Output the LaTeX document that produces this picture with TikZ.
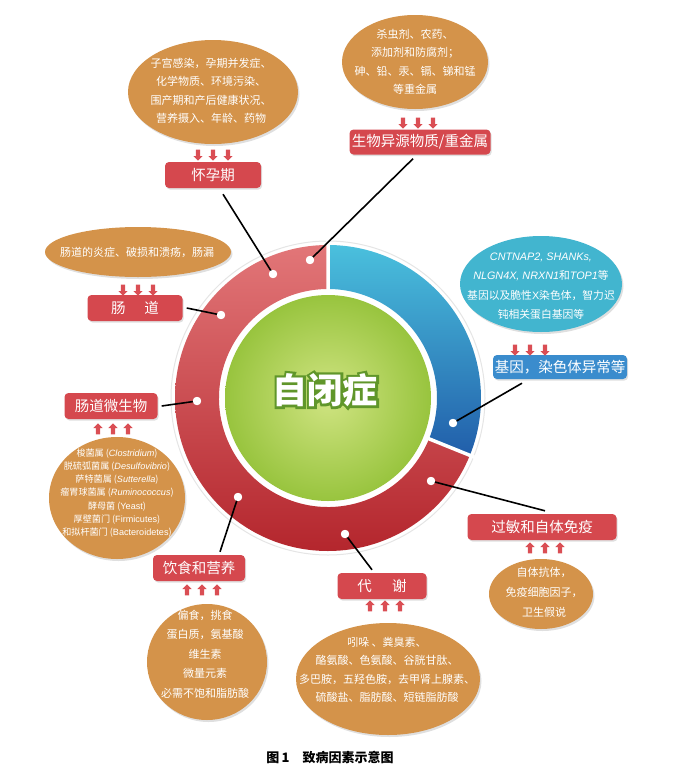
\documentclass[tikz,border=0pt]{standalone}
\usepackage{fontspec}
\setmainfont{Noto Sans CJK SC}
\newfontfamily\latin{Liberation Sans}
\newfontfamily\coreglow{Noto Sans CJK SC}[BoldFeatures={FakeBold=14}]
\usetikzlibrary{shapes.geometric,shapes.arrows,shadows}

\definecolor{boxred}{RGB}{213,72,78}
\definecolor{boxblue}{RGB}{58,140,205}
\definecolor{ochre}{RGB}{212,147,74}
\definecolor{seacyan}{RGB}{66,181,207}
\definecolor{cuered}{RGB}{218,78,84}
\definecolor{ringpink}{RGB}{226,118,120}
\definecolor{ringdark}{RGB}{180,38,45}
\definecolor{ringcyan}{RGB}{74,192,221}
\definecolor{ringblue}{RGB}{33,94,170}
\definecolor{coremid}{RGB}{208,228,130}
\definecolor{coreedge}{RGB}{152,196,62}
\definecolor{coreline}{RGB}{96,150,42}

\newcommand\gn[1]{{\latin\itshape #1}}
\newcommand\lt[1]{{\latin #1}}
% three small block arrows: x, y, direction, name
\newcommand\cuetrio[4]{%
  \foreach \k/\dx in {1/-15,2/0,3/15}
    \node[cue, shape border rotate=#3] (#4\k) at (#1+\dx,#2) {};}

\tikzset{
  cause/.style={rectangle, rounded corners=4pt, fill=boxred, text=white,
    font=\fontsize{14.5}{16}\selectfont, minimum height=26pt, inner sep=0pt,
    drop shadow={shadow xshift=1.2pt, shadow yshift=-1.6pt, opacity=.25}},
  blob/.style={ellipse, fill=ochre, inner sep=0pt,
    drop shadow={shadow xshift=1.5pt, shadow yshift=-2pt, opacity=.25}},
  blobtext/.style={text=white, align=center, font=\fontsize{11}{18.5}\selectfont},
  link/.style={line width=1.6pt},
  hub/.style={circle, fill=white, inner sep=0pt, minimum size=8pt},
  cue/.style={single arrow, fill=cuered, inner sep=2pt,
    single arrow head extend=2.4pt, minimum height=11pt},
}

\begin{document}
\begin{tikzpicture}[x=1pt,y=-1pt]
\useasboundingbox (0,0) rectangle (674,777);

% ring
\begin{scope}[shift={(328,398)}, y=1pt]
  \fill[white, draw=black!10, line width=1pt] (0,0) circle[radius=157];
  \shade[top color=ringpink, bottom color=ringdark]
    (90:153) arc[start angle=90, end angle=338, radius=153]
    -- (338:109) arc[start angle=338, end angle=90, radius=109] -- cycle;
  \shade[top color=ringcyan, bottom color=ringblue]
    (-22:153) arc[start angle=-22, end angle=90, radius=153]
    -- (90:109) arc[start angle=90, end angle=-22, radius=109] -- cycle;
  \draw[white, line width=3.5pt] (90:105) -- (90:158) (-22:105) -- (-22:158);
  \shade[inner color=coremid, outer color=coreedge] (0,0) circle[radius=103];
\end{scope}
\node[font=\coreglow\bfseries\fontsize{35}{38}\selectfont, text=coreline] (coreGlow) at (325,390) {自闭症};
\node[font=\bfseries\fontsize{35}{38}\selectfont, text=white] (core) at (325,390) {自闭症};

% ellipses
\node[blob, minimum width=170pt, minimum height=104pt] (pregE) at (213,92) {};
\node[blobtext] (pregT) at (211,91) {子宫感染，孕期并发症、\\化学物质、环境污染、\\围产期和产后健康状况、\\营养摄入、年龄、药物};
\node[blob, minimum width=146pt, minimum height=94pt] (xenoE) at (415,62) {};
\node[blobtext] (xenoT) at (415,62) {杀虫剂、农药、\\添加剂和防腐剂；\\砷、铅、汞、镉、锑和锰\\等重金属};
\node[blob, fill=seacyan, minimum width=162pt, minimum height=96pt] (geneE) at (541,284) {};
\node[blobtext, font=\fontsize{10.8}{19.5}\selectfont] (geneT) at (541,286)
  {\gn{CNTNAP2, SHANKs,}\\\gn{NLGN4X, NRXN1}和\gn{TOP1}等\\基因以及脆性\lt{X}染色体，智力迟\\钝相关蛋白基因等};
\node[blob, minimum width=186pt, minimum height=50pt] (gutE) at (138,252) {};
\node[blobtext] (gutT) at (137,252) {肠道的炎症、破损和溃疡，肠漏};
\node[blob, minimum width=136pt, minimum height=122pt] (microE) at (117,498) {};
\node[blobtext, font=\fontsize{9.1}{13.3}\selectfont] (microT) at (117,493)
  {梭菌属 (\gn{Clostridium})\\脱硫弧菌属 (\gn{Desulfovibrio})\\萨特菌属 (\gn{Sutterella})\\瘤胃球菌属 (\gn{Ruminococcus})\\酵母菌 (\lt{Yeast})\\厚壁菌门 (\lt{Firmicutes})\\和拟杆菌门 (\lt{Bacteroidetes})};
\node[blob, minimum width=120pt, minimum height=116pt] (dietE) at (207,662) {};
\node[blobtext, font=\fontsize{11}{19.5}\selectfont] (dietT) at (205,654) {偏食，挑食\\蛋白质，氨基酸\\维生素\\微量元素\\必需不饱和脂肪酸};
\node[blob, minimum width=184pt, minimum height=112pt] (metabE) at (388,679) {};
\node[blobtext] (metabT) at (387,670) {吲哚 、粪臭素、\\酪氨酸、色氨酸、谷胱甘肽、\\多巴胺，五羟色胺，去甲肾上腺素、\\硫酸盐、脂肪酸、短链脂肪酸};
\node[blob, minimum width=104pt, minimum height=70pt] (immuneE) at (541,594) {};
\node[blobtext, font=\fontsize{11}{20}\selectfont] (immuneT) at (544,592) {自体抗体，\\免疫细胞因子，\\卫生假说};

% factor boxes
\node[cause, minimum width=96pt] (preg) at (213,175) {怀孕期};
\node[cause, minimum width=141pt, minimum height=25pt] (xeno) at (420,142) {生物异源物质/重金属};
\node[cause, fill=boxblue, minimum width=134pt, minimum height=24pt] (gene) at (560,367) {基因，染色体异常等};
\node[cause, minimum width=95pt] (gut) at (135,308) {肠\hspace{1.3em}道};
\node[cause, minimum width=93pt] (micro) at (111,406) {肠道微生物};
\node[cause, minimum width=92pt] (diet) at (199,568) {饮食和营养};
\node[cause, minimum width=89pt] (metab) at (382,586) {代\hspace{1.4em}谢};
\node[cause, minimum width=149pt] (immune) at (542,527) {过敏和自体免疫};

% arrows
\cuetrio{213}{154}{270}{pregA}
\cuetrio{418}{122}{270}{xenoA}
\cuetrio{530}{349}{270}{geneA}
\cuetrio{138}{289}{270}{gutA}
\cuetrio{113}{430}{90}{microA}
\cuetrio{202}{591}{90}{dietA}
\cuetrio{385}{607}{90}{metabA}
\cuetrio{545}{549}{90}{immuneA}

% connectors
\node[hub] (hubPreg) at (273,274) {};
\node[hub] (hubXeno) at (310,260) {};
\node[hub] (hubGene) at (453,423) {};
\node[hub] (hubGut) at (221,315) {};
\node[hub] (hubMicro) at (197,401) {};
\node[hub] (hubDiet) at (238,497) {};
\node[hub] (hubMetab) at (345,534) {};
\node[hub] (hubImmune) at (431,481) {};
\draw[link] ([xshift=10pt,yshift=-6pt]preg.south) -- (hubPreg.center);
\draw[link] ([xshift=-7pt,yshift=-4pt]xeno.south) -- (hubXeno.center);
\draw[link] ([xshift=-38pt,yshift=-4pt]gene.south) -- (hubGene.center);
\draw[link] ([xshift=4pt]gut.east) -- (hubGut.center);
\draw[link] ([xshift=4pt]micro.east) -- (hubMicro.center);
\draw[link] ([xshift=21pt,yshift=3pt]diet.north) -- (hubDiet.center);
\draw[link] ([xshift=-10pt,yshift=3pt]metab.north) -- (hubMetab.center);
\draw[link] ([xshift=3pt,yshift=3pt]immune.north) -- (hubImmune.center);
\foreach \h in {hubPreg,hubXeno,hubGene,hubGut,hubMicro,hubDiet,hubMetab,hubImmune}
  \fill[white] (\h) circle[radius=4.2];

\node[font=\bfseries\fontsize{13}{15}\selectfont] (caption) at (330,757) {图\,1\quad 致病因素示意图};
\end{tikzpicture}
\end{document}
